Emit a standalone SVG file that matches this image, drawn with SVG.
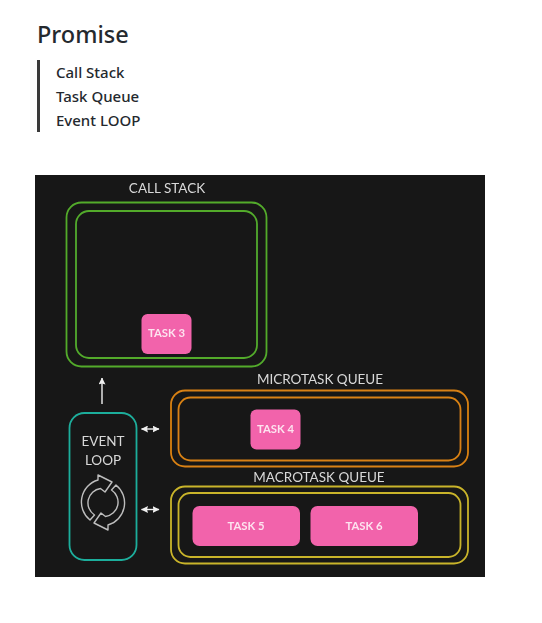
<svg xmlns="http://www.w3.org/2000/svg" width="542" height="623" viewBox="0 0 542 623">
<style>
.h{font-family:"Noto Sans","Open Sans",sans-serif;fill:#24292e;font-weight:500}
.l{font-family:"Lato","Noto Sans",sans-serif;fill:#d8d8d8;text-anchor:middle;font-size:13.5px}
.t{font-family:"Lato","Noto Sans",sans-serif;fill:#fde3ef;text-anchor:middle;font-size:11.3px;font-weight:700}
.b{fill:none;stroke-width:1.8}
.task{fill:#f263ab}
.c{stroke:#f0f0f0;stroke-width:1.4;fill:none}
.ic{fill:none;stroke:#bdbdbd;stroke-width:1.4;stroke-linejoin:round}
</style>
<defs>
<marker id="a" viewBox="0 0 7 7" refX="6.500" refY="3.500" markerWidth="7" markerHeight="7" markerUnits="userSpaceOnUse" orient="auto-start-reverse"><path d="M0 0L7 3.500L0 7L1 3.500Z" fill="#f0f0f0"/></marker>
<filter id="soft" filterUnits="userSpaceOnUse" x="35" y="175" width="450" height="402"><feGaussianBlur stdDeviation="0.35"/></filter>
</defs>
<rect width="542" height="623" fill="#fff"/>
<text class="h" x="37" y="43" font-size="23.500">Promise</text>
<rect x="37" y="60" width="3" height="72" fill="#3a3a3a"/>
<text class="h" x="56" y="78" font-size="15">Call Stack</text>
<text class="h" x="56" y="102" font-size="15">Task Queue</text>
<text class="h" x="56" y="126" font-size="15">Event LOOP</text>
<rect x="35" y="175" width="450" height="402" fill="#171717"/>
<g filter="url(#soft)">
<g id="call-stack">
<text class="l" x="167" y="193">CALL STACK</text>
<rect class="b" x="66.500" y="202.500" width="200" height="164" rx="15" stroke="#52ab2c"/>
<rect class="b" x="76" y="211" width="181" height="147" rx="13" stroke="#52ab2c"/>
</g>
<g id="task-3"><rect class="task" x="141.500" y="314" width="50" height="40" rx="6"/><text class="t" x="166.500" y="337">TASK 3</text></g>
<g id="microtask-queue">
<text class="l" x="320" y="384">MICROTASK QUEUE</text>
<rect class="b" x="171" y="390.500" width="297" height="76" rx="14" stroke="#d98112"/>
<rect class="b" x="178.500" y="397.500" width="282" height="63" rx="12" stroke="#d98112"/>
</g>
<g id="task-4"><rect class="task" x="250.500" y="409.500" width="50" height="40" rx="6"/><text class="t" x="275.500" y="432.500">TASK 4</text></g>
<g id="macrotask-queue">
<text class="l" x="319" y="482">MACROTASK QUEUE</text>
<rect class="b" x="171" y="486.500" width="297" height="77" rx="14" stroke="#c9b42a"/>
<rect class="b" x="178.500" y="493" width="282" height="64" rx="12" stroke="#c9b42a"/>
</g>
<g id="task-5"><rect class="task" x="192.500" y="506" width="107.500" height="40" rx="7"/><text class="t" x="246" y="530">TASK 5</text></g>
<g id="task-6"><rect class="task" x="310.500" y="506" width="107.500" height="40" rx="7"/><text class="t" x="364" y="530">TASK 6</text></g>
<g id="event-loop">
<rect class="b" x="69.500" y="413" width="67" height="147" rx="15" stroke="#1fae9c"/>
<text class="l" x="103" y="446">EVENT</text>
<text class="l" x="103" y="465">LOOP</text>
<path id="cycle" class="ic" d="M90 520A23 23 0 0 1 98 480L98 475L112 482L105 492L100.500 488.500A14.500 14.500 0 0 0 94.500 515Z"/>
<path class="ic" transform="rotate(180 103 502.500)" d="M90 520A23 23 0 0 1 98 480L98 475L112 482L105 492L100.500 488.500A14.500 14.500 0 0 0 94.500 515Z"/>
</g>
<g id="connectors">
<path class="c" d="M102 404V378" marker-end="url(#a)"/>
<path class="c" d="M141.500 429H159" marker-start="url(#a)" marker-end="url(#a)"/>
<path class="c" d="M141.500 509.500H159" marker-start="url(#a)" marker-end="url(#a)"/>
</g>
</g>
</svg>
